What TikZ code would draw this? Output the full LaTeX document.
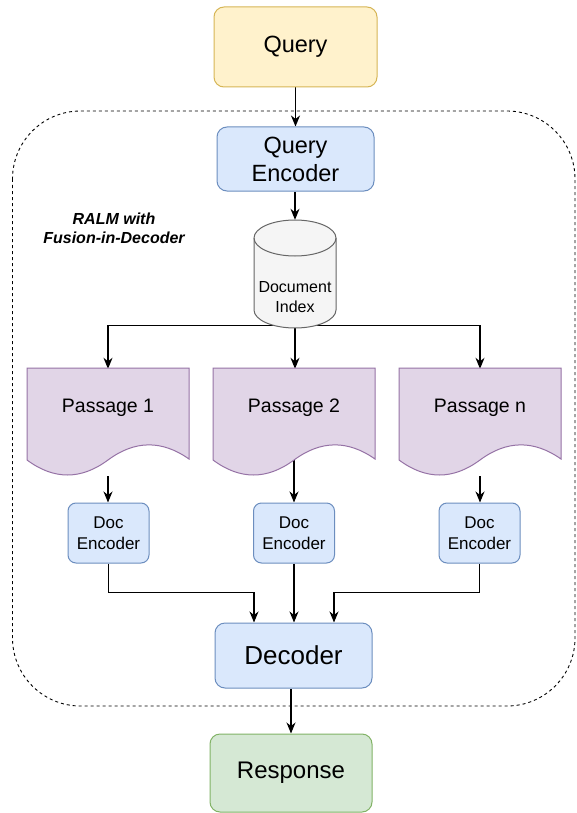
\documentclass[tikz,border=0pt]{standalone}
\usepackage{fontspec}
\setmainfont{Liberation Sans}
\usetikzlibrary{arrows.meta,calc}
\pgfdeclarelayer{bg}
\pgfsetlayers{bg,main}
\definecolor{qfill}{HTML}{FFF2CC}\definecolor{qline}{HTML}{D6B656}
\definecolor{bfill}{HTML}{DAE8FC}\definecolor{bline}{HTML}{6C8EBF}
\definecolor{pfill}{HTML}{E1D5E7}\definecolor{pline}{HTML}{9673A6}
\definecolor{gfill}{HTML}{D5E8D4}\definecolor{gline}{HTML}{82B366}
\definecolor{cfill}{HTML}{F5F5F5}\definecolor{cline}{HTML}{666666}
\tikzset{
  box/.style={rounded corners=10pt, line width=1pt, align=center, inner sep=0pt},
  qbox/.style={box, fill=qfill, draw=qline, minimum width=163pt, minimum height=80pt, font=\fontsize{23.5}{28}\selectfont},
  ebox/.style={box, fill=bfill, draw=bline, minimum width=157pt, minimum height=64pt, font=\fontsize{23.5}{28}\selectfont},
  decbox/.style={box, fill=bfill, draw=bline, minimum width=157pt, minimum height=65pt, font=\fontsize{26}{31}\selectfont},
  rbox/.style={box, fill=gfill, draw=gline, minimum width=162pt, minimum height=78pt, font=\fontsize{24}{29}\selectfont},
  debox/.style={box, rounded corners=8pt, fill=bfill, draw=bline, minimum width=81pt, minimum height=60pt, font=\fontsize{17}{21}\selectfont},
  pshape/.style={fill=pfill, draw=pline, line width=1pt},
  ptext/.style={inner sep=0pt, minimum width=162pt, minimum height=78pt, font=\fontsize{19.5}{23}\selectfont},
  cylshape/.style={fill=cfill, draw=cline, line width=1pt},
  conn/.style={draw=black, line width=1.2pt, -{Stealth[length=11pt,width=9pt,inset=3.5pt]}},
  group/.style={draw=black, line width=0.9pt, dash pattern=on 3pt off 3pt, rounded corners=68pt},
}
\newcommand\passage[3]{%
  \draw[pshape] ({#2-81},-368) -- ({#2+81},-368) -- ({#2+81},-459)
    .. controls +(-27,19) and +(27,20) .. (#2,-460)
    .. controls +(-27,-20) and +(27,-20) .. ({#2-81},-460) -- cycle;
  \node[ptext] (#1) at (#2,-408) {#3};}
\begin{document}
\begin{tikzpicture}[x=1pt,y=1pt]
\begin{pgfonlayer}{bg}
\fill[white] (0,0) rectangle (576,-813);
\end{pgfonlayer}
\useasboundingbox (0,0) rectangle (576,-813);
% group container
\draw[group] (12.5,-111) rectangle (575,-706);
\node[font=\fontsize{16}{19}\selectfont\bfseries\itshape, align=center] (ralm) at (114,-228) {RALM with\\Fusion-in-Decoder};
% nodes
\node[qbox] (query) at (295.5,-47) {Query};
\node[ebox] (qenc) at (295.5,-159) {Query\\Encoder};
% cylinder
\draw[cylshape] (254,-238) -- (254,-310)
  arc[start angle=180, end angle=360, x radius=41, y radius=18] -- (336,-238)
  arc[start angle=0, end angle=180, x radius=41, y radius=18] -- cycle;
\draw[cline, line width=1pt] (254,-238) arc[start angle=180, end angle=360, x radius=41, y radius=18];
\node[inner sep=0pt, minimum width=82pt, minimum height=108pt] (cyl) at (295,-274) {};
\node[font=\fontsize{16}{20}\selectfont, align=center, inner sep=0pt] (cyltext) at (295,-297) {Document\\Index};
% passages
\passage{p1}{108}{Passage 1}
\passage{p2}{294}{Passage 2}
\passage{pn}{480}{Passage n}
% doc encoders
\node[debox] (de1) at (108.5,-533) {Doc\\Encoder};
\node[debox] (de2) at (294,-533) {Doc\\Encoder};
\node[debox] (den) at (479.5,-533) {Doc\\Encoder};
% decoder & response
\node[decbox] (dec) at (293.5,-655.5) {Decoder};
\node[rbox] (resp) at (291,-773) {Response};
% connectors
\begin{pgfonlayer}{bg}
\draw[conn] (query.south -| qenc.north) -- (qenc.north);
\draw[conn] (qenc.south -| cyl.north) -- (cyl.north);
\coordinate (split) at ($(cyl.south)+(0,3)$);
\draw[conn] (split) -| (p1.north);
\draw[conn] (split) -| (pn.north);
\draw[conn] (cyl.south) -- (cyl.south |- p2.north);
\coordinate (s1) at ($(p1.south)+(0,-29)$);
\coordinate (s2) at ($(p2.south)+(0,-13)$);
\coordinate (sn) at ($(pn.south)+(0,-29)$);
\draw[conn] (s1) -- (s1 |- de1.north);
\draw[conn] (s2) -- (s2 |- de2.north);
\draw[conn] (sn) -- (sn |- den.north);
\coordinate (d1) at ($(dec.north)+(-39.5,0)$);
\coordinate (dn) at ($(dec.north)+(40.5,0)$);
\draw[conn] (de1.south) |- ($(d1)+(0,30)$) -- (d1);
\draw[conn] (de2.south) -- (de2.south |- dec.north);
\draw[conn] (den.south) |- ($(dn)+(0,30)$) -- (dn);
\draw[conn] (resp.north |- dec.south) -- (resp.north);
\end{pgfonlayer}
\end{tikzpicture}
\end{document}
